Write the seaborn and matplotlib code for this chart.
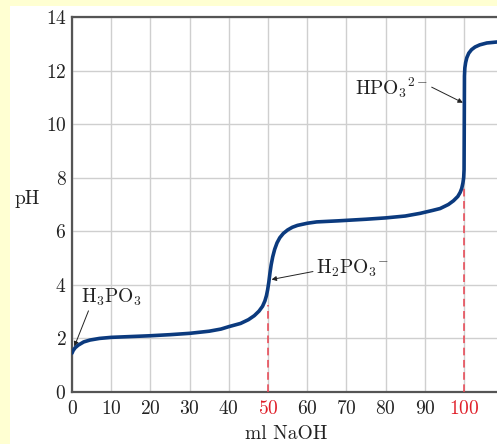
import matplotlib
matplotlib.use("Agg")
import matplotlib.pyplot as plt
from matplotlib.patches import Rectangle
import seaborn as sns
import pandas as pd

# data
ml_naoh = [0, 0.3, 0.8, 1.6, 3, 4.6, 7, 10, 15, 20, 25, 30, 35, 38, 40, 43, 45, 46.5,
           47.7, 48.6, 49.2, 49.6, 49.9, 50.2, 50.5, 50.8, 51.2, 51.7, 52.3, 53.0,
           53.9, 55.0, 56.2, 57.5, 60, 62.4, 67.9, 75, 80, 85, 88.8, 92, 93.9, 96,
           97.3, 98.4, 99.0, 99.4, 99.7, 99.9, 100, 100.05, 100.1, 100.2, 100.4,
           100.7, 101.2, 101.9, 102.8, 104, 105.8, 108.6]
ph = [1.45, 1.55, 1.65, 1.75, 1.87, 1.94, 2.0, 2.04, 2.07, 2.1, 2.14, 2.19, 2.27,
      2.35, 2.44, 2.56, 2.7, 2.85, 3.02, 3.2, 3.4, 3.6, 3.82, 4.1, 4.45, 4.75,
      5.05, 5.33, 5.57, 5.76, 5.92, 6.05, 6.15, 6.22, 6.3, 6.35, 6.39, 6.45,
      6.5, 6.57, 6.67, 6.78, 6.85, 7.0, 7.14, 7.3, 7.45, 7.6, 7.8, 8.0, 8.3,
      10.0, 11.8, 12.1, 12.3, 12.48, 12.65, 12.78, 12.88, 12.96, 13.03, 13.07]

equivalence_ml = [50, 100]
equivalence_ph = [3.25, 7.66]

x_ticks = [0, 10, 20, 30, 40, 50, 60, 70, 80, 90, 100]
y_ticks = [0, 2, 4, 6, 8, 10, 12, 14]

df = pd.DataFrame({"ml NaOH": ml_naoh, "pH": ph})

sns.set_style("whitegrid")
plt.rcParams["font.family"] = ["cmr10", "DejaVu Serif"]
plt.rcParams["mathtext.fontset"] = "cm"
plt.rcParams["axes.formatter.use_mathtext"] = True

FS = 14
TXT = "#222222"

fig = plt.figure(figsize=(4.97, 4.44), dpi=100)
fig.patch.set_facecolor("#ffffd2")
# white panel behind the chart
fig.add_artist(Rectangle((10 / 497, 0), 1, 1 - 6 / 444, transform=fig.transFigure,
                         facecolor="white", edgecolor="none", zorder=-10))

ax = fig.add_axes([72 / 497, 52 / 444, 425 / 497, 375 / 444])
ax.set_facecolor("white")

sns.lineplot(data=df, x="ml NaOH", y="pH", ax=ax, color="#0b3a7e", lw=2.6,
             sort=False, estimator=None, zorder=4)

for xe, ye in zip(equivalence_ml, equivalence_ph):
    ax.plot([xe, xe], [0, ye], color="#e8414f", lw=1.1, dashes=(5, 3), zorder=3)

ax.set_xlim(0, 108.4)
ax.set_ylim(0, 14)
ax.set_xticks(x_ticks)
ax.set_yticks(y_ticks)
ax.grid(True, color="#cfcfcf", lw=1)
ax.tick_params(length=0, labelsize=FS, colors=TXT)
ax.tick_params(axis="x", pad=6)
ax.tick_params(axis="y", pad=4)
for lab in ax.get_xticklabels():
    if lab.get_text() in ("50", "100", "$\\mathdefault{50}$", "$\\mathdefault{100}$"):
        lab.set_color("#e0202a")

for side in ["left", "bottom", "top"]:
    ax.spines[side].set_color("#555555")
    ax.spines[side].set_linewidth(1.6)
ax.spines["right"].set_visible(False)

ax.set_xlabel("ml NaOH", fontsize=FS, color=TXT)
ax.xaxis.set_label_coords(0.505, -0.088)
ax.set_ylabel("pH", fontsize=FS, color=TXT, rotation=0)
ax.yaxis.set_label_coords(-0.105, 0.49)

arrow = dict(arrowstyle="-|>", color=TXT, lw=0.7, mutation_scale=7,
             shrinkA=0, shrinkB=0)
ax.annotate(r"H$_3$PO$_3$", xy=(0.6, 1.7), xytext=(2.2, 3.55), fontsize=FS,
            ha="left", va="center", color=TXT,
            arrowprops=dict(arrow, relpos=(0.15, 0)))
ax.annotate(r"H$_2$PO$_3{}^{-}$", xy=(50.9, 4.2), xytext=(62.3, 4.6), fontsize=FS,
            ha="left", va="center", color=TXT,
            arrowprops=dict(arrow, relpos=(0, 0.4)))
ax.annotate(r"HPO$_3{}^{2-}$", xy=(99.7, 10.8), xytext=(72.2, 11.35), fontsize=FS,
            ha="left", va="center", color=TXT,
            arrowprops=dict(arrow, relpos=(1, 0.6)))

fig.savefig("out.png", dpi=100, facecolor=fig.get_facecolor())
